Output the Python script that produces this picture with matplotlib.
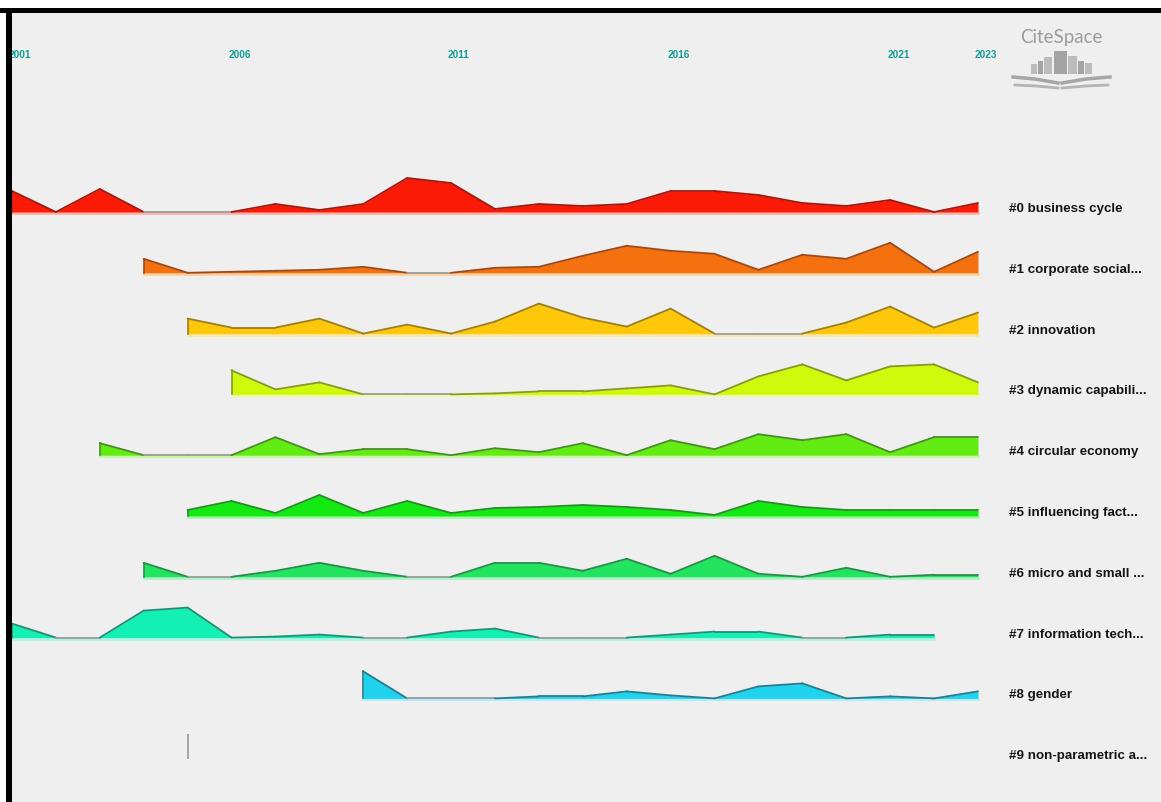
import matplotlib.pyplot as plt
import numpy as np
from matplotlib.patches import Rectangle

# cluster landscape (values = height of the area for each year)
years_lbl = [2001, 2006, 2011, 2016, 2021, 2023]

labels = ["#0 business cycle", "#1 corporate social...", "#2 innovation",
          "#3 dynamic capabili...", "#4 circular economy", "#5 influencing fact...",
          "#6 micro and small ...", "#7 information tech...", "#8 gender",
          "#9 non-parametric a..."]

starts = [2001, 2004, 2005, 2006, 2003, 2005, 2004, 2001, 2009, 2005]

c0 = [21, 0, 23, 0, 0, 0, 8, 2, 8, 34, 29, 3, 8, 6, 8, 21, 21, 17, 9, 6, 12, 0, 9]
c1 = [14, 0, 1, 2, 3, 6, 0, 0, 5, 6, 17, 27, 22, 19, 3, 18, 14, 30, 1, 21]
c2 = [15, 6, 6, 15, 0, 9, 0, 12, 30, 16, 7, 25, 0, 0, 0, 11, 27, 6, 21]
c3 = [24, 5, 12, 0, 0, 0, 1, 3, 3, 6, 9, 0, 18, 30, 14, 28, 30, 12]
c4 = [12, 0, 0, 0, 18, 1, 6, 6, 0, 7, 3, 12, 0, 15, 6, 21, 15, 21, 3, 18, 18]
c5 = [6, 15, 3, 21, 3, 15, 3, 8, 9, 11, 9, 6, 1, 15, 9, 6, 6, 6, 6]
c6 = [14, 0, 0, 6, 14, 6, 0, 0, 14, 14, 6, 18, 3, 21, 3, 0, 9, 0, 2, 2]
c7 = [14, 0, 0, 27, 30, 0, 1, 3, 0, 0, 6, 9, 0, 0, 0, 3, 6, 6, 0, 0, 3, 3]
c8 = [27, 0, 0, 0, 2, 2, 7, 3, 0, 12, 15, 0, 2, 0, 7]
c9 = [25]
values = [c0, c1, c2, c3, c4, c5, c6, c7, c8, c9]

fills = ['#fb1a06', '#f5700f', '#ffc70a', '#d0fa0c', '#62ec12',
         '#12ea12', '#22e45e', '#14efb4', '#1fd2ee', '#999999']
edges = ['#9c1c14', '#9a4a1c', '#9a7e20', '#86982a', '#4a8a2c',
         '#2a8a2a', '#2a8a4c', '#2a8a76', '#2a7a8a', '#999999']
tints = ['#ffb3a8', '#ffcf9e', '#ffe7a0', '#eefca0', '#c6f7a4',
         '#a6f7a6', '#aaf3c4', '#a8f7e2', '#aeeef9', '#cccccc']

W, H = 1161, 803
fig = plt.figure(figsize=(W / 100, H / 100), dpi=100)
fig.patch.set_facecolor('#efefef')

ax = fig.add_axes([0, 0, 1, 1])
ax.set_facecolor('#efefef')
px_year = 966 / 22
ax.set_xlim(2001 - 12 / px_year, 2001 + (W - 12) / px_year)
ax.set_ylim(H, 0)
ax.axis('off')

base0, gap = 213, 60.8
fam = ['Liberation Sans', 'DejaVu Sans']

for i, (st, vals) in enumerate(zip(starts, values)):
    b = base0 + i * gap
    x = np.arange(st, st + len(vals))
    v = np.array(vals, dtype=float)
    if len(v) == 1:
        ax.vlines(x, b, b - v, color=fills[i], lw=1.2, zorder=3)
        continue
    ax.plot([x[0], x[-1]], [b + 1, b + 1], color=tints[i], lw=2, zorder=1)
    ax.fill_between(x, b, b - v, color=fills[i], lw=0, zorder=2)
    for k in range(len(v) - 1):
        col = '#9a9a9a' if v[k] == 0 and v[k + 1] == 0 else edges[i]
        ax.plot(x[k:k + 2], b - v[k:k + 2], color=col, lw=1.3, zorder=3,
                solid_capstyle='round')
    ax.plot([x[0], x[0]], [b, b - v[0]], color=edges[i], lw=1.2, zorder=3)

for yr in years_lbl:
    ax.text(yr - 3 / px_year, 55, str(yr), color='#139c95', fontsize=7.2,
            fontweight='bold', family=fam, ha='left', va='center')

for i, lab in enumerate(labels):
    b = base0 + i * gap
    ax.text(2001 + (1009 - 12) / px_year, b - 1, lab, color='#151515',
            fontsize=9.6, fontweight='bold', family=fam, ha='left',
            va='baseline')

# overlay in pixel coords: logo and frame
ov = fig.add_axes([0, 0, 1, 1])
ov.set_xlim(0, W)
ov.set_ylim(H, 0)
ov.axis('off')
ov.patch.set_alpha(0)

ov.text(1061, 37, 'CiteSpace', color='#9c9c9c', fontsize=13.5,
        family=['Lato', 'DejaVu Sans'], ha='center', va='center')
bars = [(1031, 1038, 65), (1038, 1044, 62), (1044, 1053, 58), (1054, 1068, 52),
        (1068, 1078, 57), (1078, 1085, 62), (1085, 1093, 64)]
for j, (x0, x1, top) in enumerate(bars):
    ov.add_patch(Rectangle((x0, top), x1 - x0 - 1, 75 - top,
                           color='#a4a4a4' if j % 2 else '#bcbcbc', lw=0))
ov.plot([1013, 1035, 1058], [78, 80, 84], color='#a6a6a6', lw=2.5)
ov.plot([1062, 1086, 1110], [84, 80, 78], color='#a6a6a6', lw=2.5)
ov.plot([1015, 1036, 1058], [86, 87, 89], color='#b4b4b4', lw=2)
ov.plot([1062, 1086, 1108], [89, 87, 86], color='#b4b4b4', lw=2)

ov.add_patch(Rectangle((0, 0), W, 9, color='white', lw=0, zorder=10))
ov.add_patch(Rectangle((0, 0), 6, H, color='white', lw=0, zorder=10))
ov.add_patch(Rectangle((0, 9), W, 5, color='black', lw=0, zorder=11))
ov.add_patch(Rectangle((6, 9), 6, H, color='black', lw=0, zorder=11))

fig.savefig('out.png', dpi=100, facecolor=fig.get_facecolor())
